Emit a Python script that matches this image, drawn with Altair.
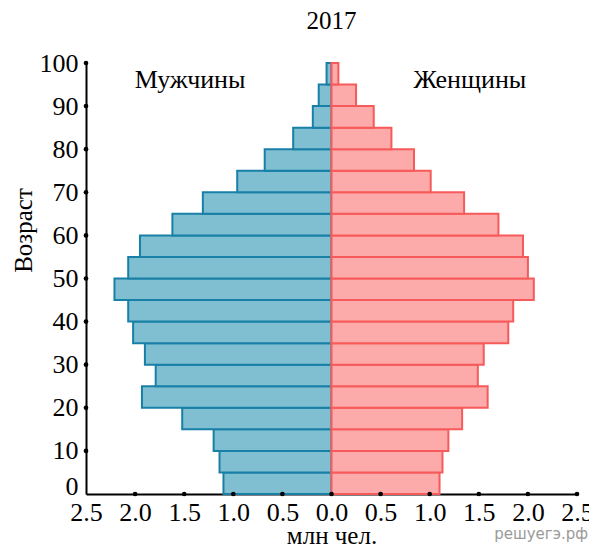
import altair as alt
import pandas as pd

# Age group starts (years)
age_start = list(range(0, 100, 5))
# million people
men = [1.09, 1.13, 1.19, 1.51, 1.92, 1.78, 1.89, 2.01, 2.06, 2.20,
       2.06, 1.94, 1.61, 1.30, 0.95, 0.67, 0.38, 0.18, 0.12, 0.04]
women = [1.09, 1.12, 1.18, 1.32, 1.58, 1.48, 1.54, 1.79, 1.84, 2.05,
         1.99, 1.94, 1.69, 1.34, 1.00, 0.83, 0.60, 0.42, 0.24, 0.06]

x_ticks = [-2.5, -2.0, -1.5, -1.0, -0.5, 0.0, 0.5, 1.0, 1.5, 2.0, 2.5]
y_ticks = [0, 10, 20, 30, 40, 50, 60, 70, 80, 90, 100]
sex_labels = ["Мужчины", "Женщины"]

FONT = "Liberation Serif"

df_men = pd.DataFrame({"lo": age_start, "hi": [a + 5 for a in age_start],
                       "val": [-v for v in men], "zero": 0.0})
df_women = pd.DataFrame({"lo": age_start, "hi": [a + 5 for a in age_start],
                         "val": women, "zero": 0.0})
df_xdots = pd.DataFrame({"lo": 0, "val": x_ticks[1:]})
df_ydots = pd.DataFrame({"lo": y_ticks[1:], "val": x_ticks[0]})

xscale = alt.Scale(domain=[-2.5, 2.5], nice=False, zero=False)
yscale = alt.Scale(domain=[0, 100], nice=False)

x_axis = alt.Axis(values=x_ticks, labelExpr="format(abs(datum.value), '.1f')",
                  title="млн чел.", grid=False, ticks=False, domainColor="black",
                  domainWidth=2, labelFont=FONT, labelFontSize=26, labelColor="black",
                  labelBaseline="alphabetic", labelPadding=26, labelFlush=False,
                  labelOverlap=False,
                  titleFont=FONT, titleFontSize=25, titleFontWeight="normal",
                  titleColor="black", titleY=49, titleBaseline="alphabetic")
y_axis = alt.Axis(values=y_ticks, title="Возраст", grid=False, ticks=False,
                  domainColor="black", domainWidth=2, labelFont=FONT, labelFontSize=26,
                  labelColor="black", labelPadding=8, labelOverlap=False,
                  labelFlush=False,
                  labelBaseline=alt.condition("datum.value == 0", alt.value("alphabetic"),
                                              alt.value("middle")),
                  titleFont=FONT, titleFontSize=25, titleFontWeight="normal",
                  titleColor="black", titleX=-55, titleY=167, titleBaseline="alphabetic",
                  titleAngle=270)


def enc(chart):
    return chart.encode(
        x=alt.X("val:Q", scale=xscale, axis=x_axis),
        y=alt.Y("lo:Q", scale=yscale, axis=y_axis),
    )


men_bars = enc(alt.Chart(df_men).mark_bar(
    fill="#80bfd1", stroke="#1880a6", strokeWidth=2, xOffset=-1
)).encode(x2="zero:Q", y2="hi:Q")

women_bars = enc(alt.Chart(df_women).mark_bar(
    fill="#fcaaaa", stroke="#f75a5a", strokeWidth=2, xOffset=1
)).encode(x2="zero:Q", y2="hi:Q")

xdots = enc(alt.Chart(df_xdots).mark_point(filled=True, color="black", size=22, opacity=1))
ydots = enc(alt.Chart(df_ydots).mark_point(filled=True, color="black", size=22, opacity=1))

men_label = alt.Chart().mark_text(font=FONT, fontSize=26, color="black").encode(
    x=alt.datum(-1.44), y=alt.datum(96.1), text=alt.value(sex_labels[0]))
women_label = alt.Chart().mark_text(font=FONT, fontSize=26, color="black").encode(
    x=alt.datum(1.41), y=alt.datum(96.1), text=alt.value(sex_labels[1]))

watermark = alt.Chart().mark_text(font="DejaVu Sans", fontSize=15, color="#9a9a9a",
                                  align="right", baseline="alphabetic").encode(
    x=alt.value(502), y=alt.value(476), text=alt.value("решуегэ.рф"))

chart = alt.layer(men_bars, women_bars, xdots, ydots, men_label, women_label, watermark).properties(
    width=491, height=431,
    title=alt.Title("2017", font=FONT, fontSize=25, fontWeight="normal", color="black",
                    frame="group", offset=16, anchor="middle"),
    autosize=alt.AutoSizeParams(type="none"),
    padding={"left": 78, "top": 55, "right": 12, "bottom": 50},
).configure_view(stroke=None)

chart.save("out.html", embed_options={"renderer": "svg", "actions": False})
